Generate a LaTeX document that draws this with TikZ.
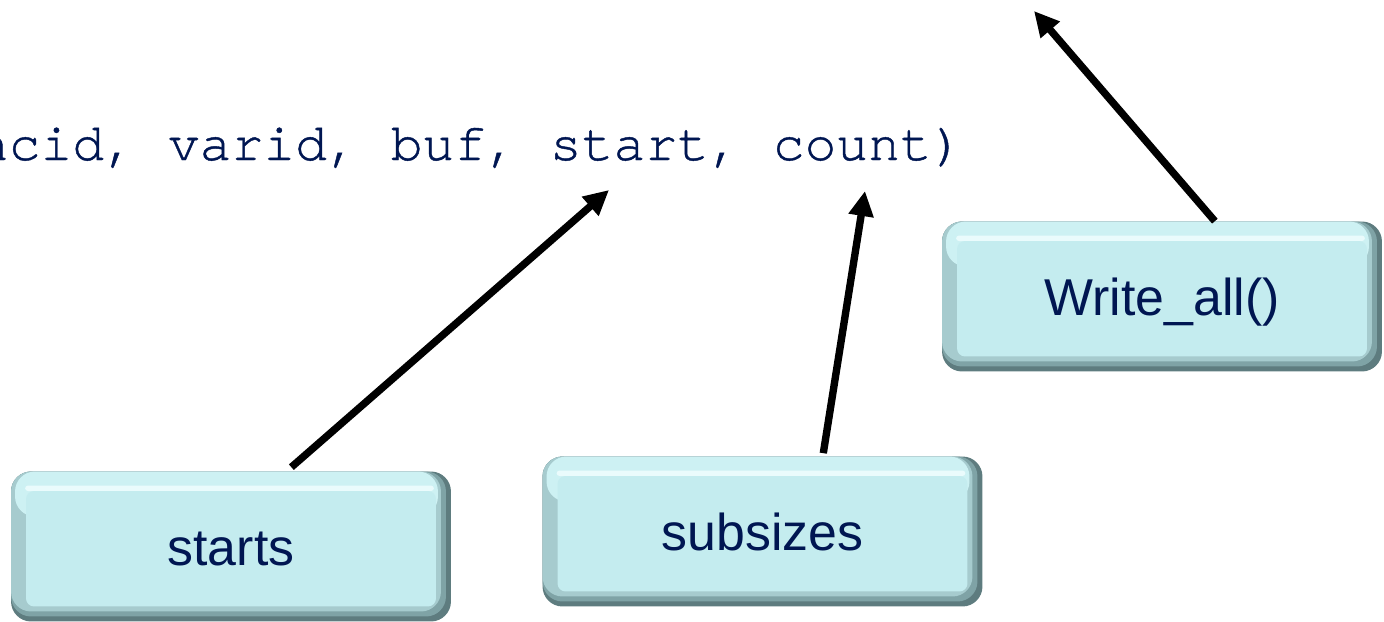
\documentclass[tikz,border=0pt]{standalone}
\usepackage{fontspec}
\setmainfont{Liberation Sans}
\newfontfamily\codefont[BoldFont=texgyrecursor-regular.otf, BoldFeatures={FakeBold=0.8}]{texgyrecursor-regular.otf}
\usetikzlibrary{arrows.meta,calc}

\definecolor{ink}{RGB}{0,22,82}
\definecolor{rimouter}{RGB}{94,124,127}
\definecolor{rimmid}{RGB}{127,163,166}
\definecolor{rimlight}{RGB}{166,203,206}
\definecolor{rimtop}{RGB}{205,241,243}
\definecolor{shine}{RGB}{234,251,252}
\definecolor{face}{RGB}{196,236,239}

\tikzset{
  bevelbox/.style={
    rounded corners=0.4cm, inner sep=0pt,
    minimum width=8.8cm, minimum height=3.0cm,
    fill=rimouter, text=ink,
    font=\fontsize{29.5}{35}\selectfont,
    text height=21.2pt, text depth=0pt,
    path picture={
      \coordinate (sw) at (path picture bounding box.south west);
      \coordinate (ne) at (path picture bounding box.north east);
      \coordinate (nw) at (sw|-ne);
      % shaded rims on the right and at the bottom
      \fill[rimmid, rounded corners=0.4cm]
        ($(sw)+(0,0.1cm)$) rectangle ($(ne)+(-0.1cm,0)$);
      \fill[rimlight, rounded corners=0.4cm]
        ($(sw)+(0,0.2cm)$) rectangle ($(ne)+(-0.2cm,0)$);
      % light upper rim
      \fill[rimtop, rounded corners=0.4cm]
        ($(nw)+(0.08cm,-0.9cm)$) rectangle ($(ne)+(-0.26cm,0)$);
      % glossy band just below the upper rim
      \fill[shine, rounded corners=0.06cm]
        ($(nw)+(0.28cm,-0.39cm)$) rectangle ($(ne)+(-0.34cm,-0.28cm)$);
      % flat face
      \fill[face, rounded corners=0.16cm]
        ($(sw)+(0.3cm,0.3cm)$) rectangle ($(ne)+(-0.3cm,-0.39cm)$);
    }
  },
  pointer/.style={
    line width=4.2pt, black,
    -{Triangle[length=0.5cm,width=0.48cm]}
  },
  code/.style={font=\codefont\bfseries\fontsize{30.2}{36}\selectfont, text=ink, inner sep=0pt}
}

\begin{document}
\begin{tikzpicture}[x=0.02cm, y=-0.02cm]
  \useasboundingbox (0,0) rectangle (1384,622);
  \clip (0,0) rectangle (1384,622);

  % the call whose arguments are pointed at
  \node[code, anchor=base west] (call) at (-23.5,160)
    {ncid, varid, buf, start, count)};

  % argument targets on the call line
  \coordinate (startarg) at (609,190);
  \coordinate (countarg) at (865,191);
  \coordinate (callname) at (1034,11);

  % boxes
  \node[bevelbox] (starts)   at (231,546.5) {starts};
  \node[bevelbox] (subsizes) at (762.5,531.5) {subsizes};
  \node[bevelbox] (writeall) at (1162,296.5) {Write\_all()};

  % arrows from each box to its argument
  \draw[pointer] ($(starts.north west)!0.637!(starts.north east)+(0,-4)$) -- (startarg);
  \draw[pointer] ($(subsizes.north west)!0.638!(subsizes.north east)+(0,-3)$) -- (countarg);
  \draw[pointer] ($(writeall.north west)!0.62!(writeall.north east)$) -- (callname);
\end{tikzpicture}
\end{document}
